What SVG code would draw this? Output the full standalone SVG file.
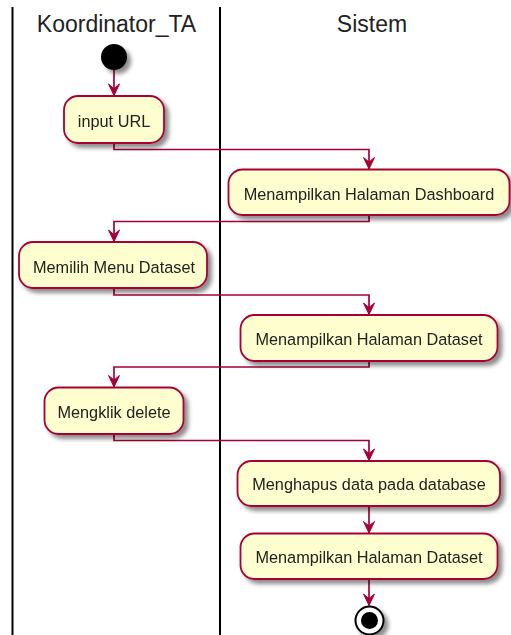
<svg xmlns="http://www.w3.org/2000/svg" width="511" height="635" viewBox="0 0 511 635">
  <style>
    .lane { stroke: #000; stroke-width: 2; }
    .title { font-family: "Liberation Sans", Arial, sans-serif; font-size: 23px; fill: #222; text-anchor: middle; }
    .act rect { fill: #FEFECE; stroke: #A80036; stroke-width: 1.8; }
    .act text { font-family: "Liberation Sans", Arial, sans-serif; font-size: 16.3px; fill: #222; text-anchor: middle; }
    .flow { fill: none; stroke: #A80036; stroke-width: 1.7; }
    .head { fill: #A80036; stroke: #A80036; stroke-width: 1; stroke-linejoin: miter; }
  </style>
  <defs>
    <filter id="shadow" x="-20%" y="-20%" width="150%" height="160%">
      <feGaussianBlur in="SourceAlpha" stdDeviation="2.2"/>
      <feOffset dx="4" dy="4" result="b"/>
      <feComponentTransfer><feFuncA type="linear" slope="0.45"/></feComponentTransfer>
      <feMerge><feMergeNode/><feMergeNode in="SourceGraphic"/></feMerge>
    </filter>
    <!-- open-notched arrowhead, tip at the path end -->
    <marker id="arrow" markerWidth="14" markerHeight="14" viewBox="-13 -7 14 14" refX="0" refY="0" orient="auto" markerUnits="userSpaceOnUse">
      <path d="M0,0 L-11.5,-5.5 L-7,0 L-11.5,5.5 Z" class="head"/>
    </marker>
  </defs>

  <rect width="511" height="635" fill="#fff"/>

  <!-- swimlanes -->
  <g id="lanes">
    <line class="lane" x1="12.5" y1="7" x2="12.5" y2="635"/>
    <line class="lane" x1="220" y1="7" x2="220" y2="635"/>
    <text class="title" x="116.5" y="32">Koordinator_TA</text>
    <text class="title" x="372" y="32">Sistem</text>
  </g>

  <!-- connectors -->
  <g id="connectors">
    <path class="flow" d="M114,70 V95.5" marker-end="url(#arrow)"/>
    <path class="flow" d="M114,143 V149.5 H369 V169" marker-end="url(#arrow)"/>
    <path class="flow" d="M369,215 V221.5 H114 V241.5" marker-end="url(#arrow)"/>
    <path class="flow" d="M114,288 V295 H369 V314.5" marker-end="url(#arrow)"/>
    <path class="flow" d="M369,361 V367 H114 V387" marker-end="url(#arrow)"/>
    <path class="flow" d="M114,434 V440.5 H369 V460.5" marker-end="url(#arrow)"/>
    <path class="flow" d="M369,506 V533" marker-end="url(#arrow)"/>
    <path class="flow" d="M369,579 V605.5" marker-end="url(#arrow)"/>
  </g>

  <!-- start -->
  <g id="start" filter="url(#shadow)">
    <circle cx="114" cy="57" r="13" fill="#000"/>
  </g>

  <g id="a1" class="act" filter="url(#shadow)">
    <rect x="64" y="96" width="100" height="47" rx="14"/>
    <text x="114" y="127">input URL</text>
  </g>

  <g id="a2" class="act" filter="url(#shadow)">
    <rect x="228.5" y="169.5" width="281" height="45.5" rx="14"/>
    <text x="369" y="199.5">Menampilkan Halaman Dashboard</text>
  </g>

  <g id="a3" class="act" filter="url(#shadow)">
    <rect x="19" y="242" width="188" height="46" rx="14"/>
    <text x="114" y="272.5">Memilih Menu Dataset</text>
  </g>

  <g id="a4" class="act" filter="url(#shadow)">
    <rect x="240.5" y="315" width="257" height="46" rx="14"/>
    <text x="369" y="344.5">Menampilkan Halaman Dataset</text>
  </g>

  <g id="a5" class="act" filter="url(#shadow)">
    <rect x="44.5" y="387.5" width="139" height="46.5" rx="14"/>
    <text x="114" y="417.5">Mengklik delete</text>
  </g>

  <g id="a6" class="act" filter="url(#shadow)">
    <rect x="237.5" y="461" width="262.5" height="45" rx="14"/>
    <text x="369" y="489.5">Menghapus data pada database</text>
  </g>

  <g id="a7" class="act" filter="url(#shadow)">
    <rect x="240.5" y="533.5" width="257" height="45.5" rx="14"/>
    <text x="369" y="563">Menampilkan Halaman Dataset</text>
  </g>

  <!-- end -->
  <g id="end" filter="url(#shadow)">
    <circle cx="369.5" cy="620.5" r="14" fill="#fff" stroke="#000" stroke-width="2"/>
    <circle cx="369.5" cy="620.5" r="8.5" fill="#000"/>
  </g>
</svg>
